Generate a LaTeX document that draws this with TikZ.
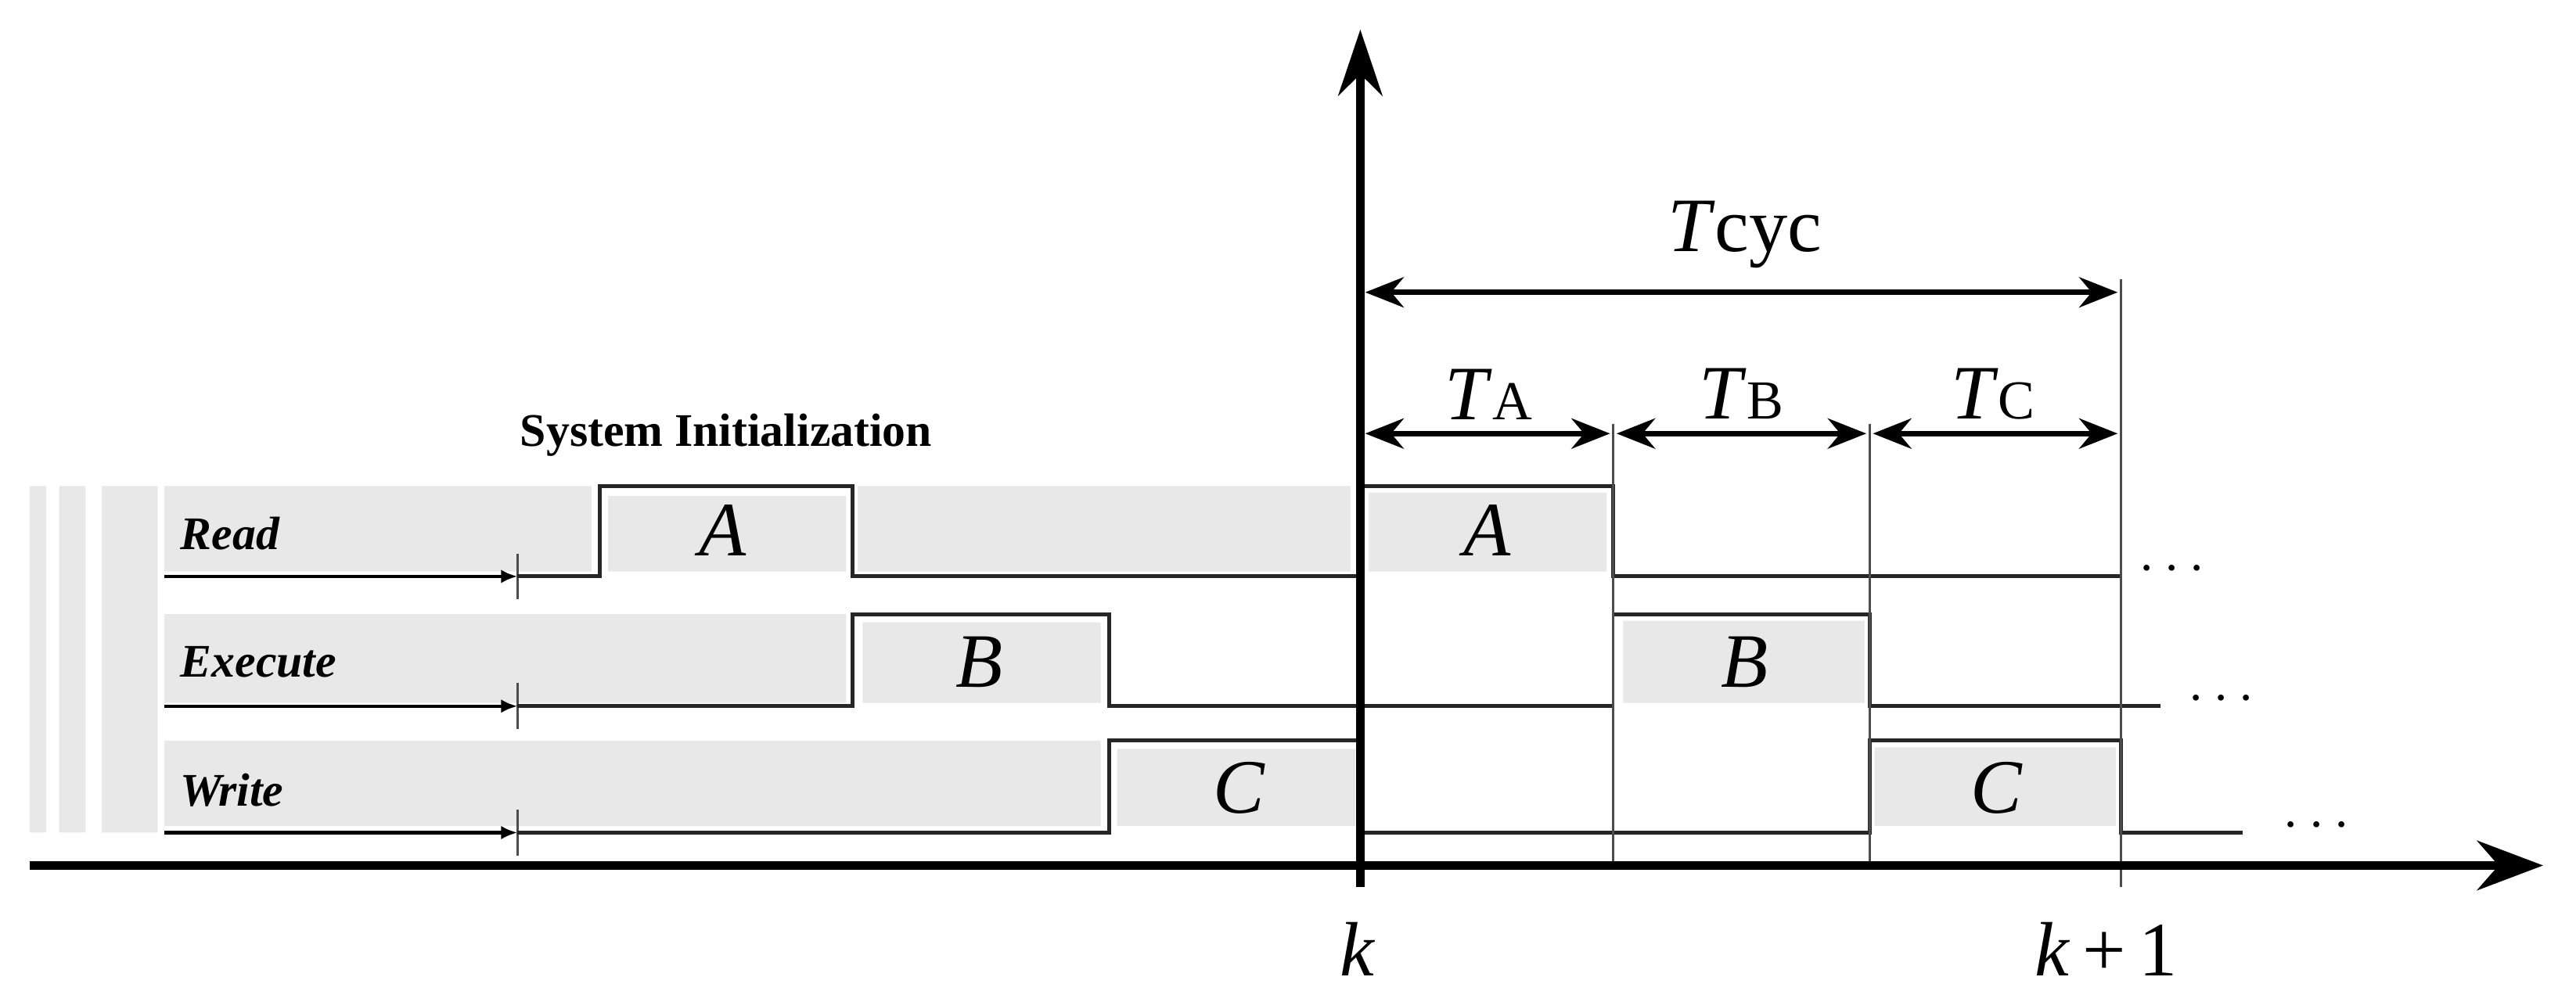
\documentclass[tikz,border=0pt]{standalone}
\usepackage{fontspec}
\setmainfont{Liberation Serif}
\usetikzlibrary{arrows.meta}
\begin{document}
\begin{tikzpicture}[x=0.021cm,y=-0.021cm,
  box/.style={fill=black!9,draw=none},
  sig/.style={line width=1.4pt,black!85},
  thin/.style={line width=0.8pt,black!70},
  dim/.style={line width=2pt,{Stealth[length=14pt,width=11pt]}-{Stealth[length=14pt,width=11pt]}},
  lab/.style={font=\fontsize{17}{17}\selectfont\bfseries\itshape,anchor=west},
  big/.style={font=\fontsize{28}{28}\selectfont\itshape},
  tick/.style={line width=1.2pt,-{Latex[length=6pt,width=5pt]}}]
\useasboundingbox (0,0) rectangle (1568,610);
% left stripes
\fill[black!9] (18,296) rectangle (28,507) (36,296) rectangle (52,507) (62,296) rectangle (96,507);
% gray boxes
\fill[box] (100,296) rectangle (360,348) (370,302) rectangle (515,348);
\fill[box] (522,296) rectangle (822,348) (833,300) rectangle (978,348);
\fill[box] (100,374) rectangle (515,428) (525,379) rectangle (670,428) (988,378) rectangle (1135,428);
\fill[box] (100,451) rectangle (670,503) (680,456) rectangle (825,503) (1141,455) rectangle (1288,503);
% labels
\node[lab] (rd) at (104,325) {Read};
\node[lab] (ex) at (104,403) {Execute};
\node[lab] (wr) at (104,481) {Write};
\node[font=\fontsize{17}{17}\selectfont\bfseries] (si) at (442,265) {System Initialization};
\node[big] (a1) at (440,323) {A};
\node[big] (a2) at (905,323) {A};
\node[big] (b1) at (596,403) {B};
\node[big] (b2) at (1062,403) {B};
\node[big] (c1) at (754,480) {C};
\node[big] (c2) at (1215,480) {C};
% init arrows
\foreach \y in {351,430,507}{
  \draw[tick] (100,\y) -- (315,\y);
  \draw[thin] (315,\y-14) -- (315,\y+14);}
% signals
\draw[sig] (315,351) -- (365,351) -- (365,296) -- (519,296) -- (519,351) -- (828,351);
\draw[sig] (828,296) -- (982,296) -- (982,351) -- (1291,351);
\draw[sig] (315,430) -- (519,430) -- (519,374) -- (675,374) -- (675,430) -- (982,430);
\draw[sig] (982,374) -- (1138,374) -- (1138,430) -- (1315,430);
\draw[sig] (315,507) -- (675,507) -- (675,451) -- (828,451) -- (828,507) -- (1138,507) -- (1138,451) -- (1291,451) -- (1291,507) -- (1365,507);
% dots
\node[font=\fontsize{22}{22}\selectfont\bfseries] (d1) at (1322,347) {$\cdots$};
\node[font=\fontsize{22}{22}\selectfont\bfseries] (d2) at (1352,426) {$\cdots$};
\node[font=\fontsize{22}{22}\selectfont\bfseries] (d3) at (1410,503) {$\cdots$};
% boundaries
\draw[thin] (982,258) -- (982,527);
\draw[thin] (1138,258) -- (1138,527);
\draw[thin] (1291,170) -- (1291,540);
% axes
\coordinate (o) at (18,527);
\coordinate (xe) at (1548,527);
\draw[line width=3pt,-{Stealth[length=24pt,width=18pt]}] (o) -- (xe);
\coordinate (vb) at (828,540);
\coordinate (vt) at (828,18);
\draw[line width=3pt,-{Stealth[length=24pt,width=16pt]}] (vb) -- (vt);
% dims
\draw[dim] (831,178) -- (1289,178);
\draw[dim] (831,264) -- (980,264);
\draw[dim] (984,264) -- (1136,264);
\draw[dim] (1140,264) -- (1289,264);
\node[font=\fontsize{28}{28}\selectfont] (tc) at (1062,143) {\textit{T}cyc};
\node[font=\fontsize{28}{28}\selectfont] (ta) at (906,240) {\textit{T}\fontsize{20}{20}\selectfont A};
\node[font=\fontsize{28}{28}\selectfont] (tb) at (1060,240) {\textit{T}\fontsize{20}{20}\selectfont B};
\node[font=\fontsize{28}{28}\selectfont] (tcc) at (1213,240) {\textit{T}\fontsize{20}{20}\selectfont C};
\node[big] (k) at (826,578) {k};
\node[font=\fontsize{28}{28}\selectfont] (k1) at (1282,578) {\textit{k}\,+\,1};
\end{tikzpicture}
\end{document}
